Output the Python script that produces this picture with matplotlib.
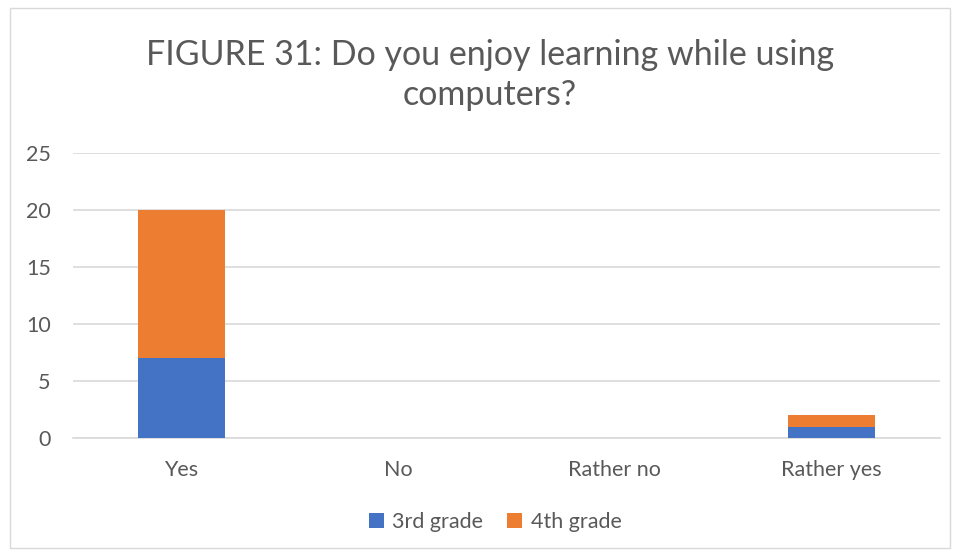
import numpy as np
import matplotlib.pyplot as plt
from matplotlib.patches import Rectangle

# Chart data
categories = ["Yes", "No", "Rather no", "Rather yes"]
third_grade = [7, 0, 0, 1]
fourth_grade = [13, 0, 0, 1]
series_labels = ["3rd grade", "4th grade"]
yticks = [0, 5, 10, 15, 20, 25]

plt.rcParams["font.family"] = ["Lato", "DejaVu Sans"]
text_color = "#595959"

fig = plt.figure(figsize=(9.56, 5.55), dpi=100)
ax = fig.add_axes([73 / 956, 1 - 438 / 555, (940 - 73) / 956, (438 - 153) / 555])

x = np.arange(len(categories))
ax.bar(x, third_grade, width=0.4, color="#4472C4", label=series_labels[0], zorder=3)
ax.bar(x, fourth_grade, width=0.4, bottom=third_grade, color="#ED7D31",
       label=series_labels[1], zorder=3)

ax.set_xlim(-0.5, len(categories) - 0.5)
ax.set_ylim(0, 25)
ax.set_yticks(yticks)
ax.set_xticks(x)
ax.set_xticklabels(categories)
ax.tick_params(axis="both", length=0, labelsize=15.5, colors=text_color)
ax.tick_params(axis="y", pad=16)
ax.tick_params(axis="x", pad=16)
ax.yaxis.grid(True, color="#D9D9D9", linewidth=1.2, zorder=0)
for s in ["top", "right", "left"]:
    ax.spines[s].set_visible(False)
ax.spines["bottom"].set_color("#D9D9D9")
ax.spines["bottom"].set_linewidth(1.2)

fig.text(490 / 956, 1 - 75 / 555, "FIGURE 31: Do you enjoy learning while using\ncomputers?",
         ha="center", va="center", fontsize=24.5, color=text_color, linespacing=1.33)

fig.legend(loc="center", bbox_to_anchor=(495 / 956, 1 - 522 / 555), ncol=2,
           frameon=False, fontsize=15.5, handlelength=0.7, handleheight=0.7,
           columnspacing=1.1, handletextpad=0.4, labelcolor=text_color)

# chart border
fig.patches.append(Rectangle((10 / 956, 1 - 548 / 555), 940 / 956, 540 / 555,
                             transform=fig.transFigure, fill=False,
                             edgecolor="#D9D9D9", linewidth=1))

fig.savefig("out.png", dpi=100)
